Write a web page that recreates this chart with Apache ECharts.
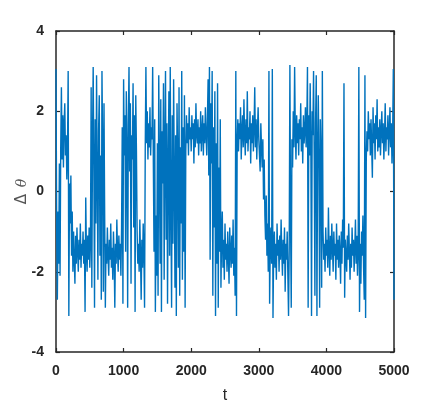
<!DOCTYPE html>
<html>
<head>
<meta charset="utf-8">
<script src="https://cdn.jsdelivr.net/npm/echarts@6/dist/echarts.min.js"></script>
<style>
html,body{margin:0;padding:0;background:#fff;}
#c{width:436px;height:409px;}
</style>
</head>
<body>
<div id="c"></div>
<script>
// sample step of the series along t
const tStep = 10;
const xTicks = [0, 1000, 2000, 3000, 4000, 5000];
const yTicks = [-4, -2, 0, 2, 4];

// Δθ values, t = 0 .. 990
const dTheta0 = [
  3.05, -1.0, -2.7, -0.5, -1.8, 0.7, -2.1, 1.1, 2.6, 0.8,
  1.9, 0.6, 1.7, 2.2, 0.9, 1.4, 0.3, 1.0, 3.0, -3.1,
  0.2, -0.8, 0.4, -1.6, -0.5, -2.0, -1.0, -1.7, -2.3, -1.1,
  -1.8, -0.9, -1.5, -2.0, -1.2, -1.7, -0.8, -1.9, -1.3, -1.6,
  -1.0, -1.8, -1.2, -3.0, -0.15, -1.5, -2.0, -1.1, -1.7, -0.9,
  -1.9, -1.3, 2.6, -2.4, 1.2, 3.1, 0.6, -2.9, 1.8, -0.8,
  2.9, 0.4, -2.2, 1.5, 2.4, -1.6, 0.9, -2.7, 3.0, 1.1,
  -2.5, 2.2, -0.6, -2.9, -1.3, -1.8, -0.9, -1.6, -2.1, -1.2,
  -1.7, -0.8, -1.9, -1.4, -2.2, -1.0, -1.6, -2.9, -1.3, -1.8,
  -0.7, -1.5, -2.0, -1.1, -1.7, -1.3, -2.1, -0.9, 1.6, -2.8
];
// t = 1000 .. 1990
const dTheta1 = [
  2.8, 0.9, 1.9, -1.5, 2.5, 1.1, -2.9, 1.7, 3.1, 0.5,
  2.2, -2.3, 1.4, 0.8, 2.7, -0.9, 1.9, -3.0, 2.4, 1.0,
  -1.0, -1.8, -1.3, -2.0, -0.7, -1.6, -2.7, -1.2, -1.9, -0.8,
  -1.5, -2.9, 1.0, 3.1, 1.2, 2.0, 0.8, 1.7, 1.1, 2.1,
  0.9, 1.6, 1.3, 3.1, 0.7, -1.5, 1.8, -3.0, -0.6, -2.1,
  1.2, -2.6, 2.9, 0.5, -1.8, 2.3, -3.0, 1.5, 0.2, 2.7,
  -2.2, 1.0, 3.0, -1.2, 1.7, -2.8, 0.6, 2.5, -1.6, 3.1,
  -0.4, -2.9, 1.9, -1.3, 2.8, 0.3, -2.4, 1.4, -3.1, 2.2,
  0.8, -1.9, 2.6, -2.6, 1.1, -0.8, 3.0, -2.2, 1.6, -1.5,
  2.4, -2.9, 1.0, 1.9, 1.2, 1.7, 0.9, 2.1, 1.3, 1.6
];
// t = 2000 .. 2990
const dTheta2 = [
  1.0, 1.9, 1.3, 1.7, 0.7, 1.8, 1.1, 2.2, 1.4, 1.2,
  1.8, 0.9, 1.6, 1.2, 2.0, 1.0, 1.5, 1.9, 0.9, 1.7,
  1.2, 2.1, 1.4, 0.9, 1.8, 2.8, 0.4, 3.1, -1.7, 2.2,
  0.7, 3.0, -2.6, 1.6, -0.9, 2.5, -3.1, 1.2, -1.8, 2.7,
  -2.9, 0.6, -1.5, 1.8, -2.4, -1.1, -0.5, -1.9, -1.2, -2.2,
  -0.8, -1.7, -1.3, -2.0, -1.0, -1.6, -2.3, -0.9, -1.5, -1.9,
  -1.1, -1.8, -0.7, -2.1, -1.4, -2.6, 3.0, -3.1, 1.2, 1.8,
  1.0, 1.7, 1.3, 2.1, 0.8, 1.5, 1.9, 1.1, 2.3, 1.4,
  0.9, 1.8, 1.2, 2.5, 1.0, 1.6, 1.3, 2.0, 0.7, 1.7,
  1.2, 1.9, 1.0, 1.6, 2.6, 1.1, 1.8, 0.8, 1.5, 2.1
];
// t = 3000 .. 3990
const dTheta3 = [
  1.3, 0.9, 0.5, 1.7, 1.1, 0.6, 1.3, -0.2, 0.8, -0.6,
  -1.2, -0.1, -1.6, -0.8, -2.0, 3.0, -2.8, -1.3, -0.9, -1.8,
  3.05, -3.15, -1.4, -1.0, -1.9, -1.3, -2.2, -0.8, -1.6, -1.2,
  -2.0, -1.1, -1.7, -0.7, -1.5, -2.1, -1.2, -1.8, -0.9, -2.5,
  -1.3, -1.7, -1.0, -2.1, -3.1, -1.4, 3.15, -0.8, -2.9, 1.3,
  0.6, 2.0, 1.1, 3.1, 1.5, 0.8, 1.9, 1.2, 1.7, 0.9,
  1.8, 1.3, 2.2, 1.0, 1.6, 0.7, 1.9, 1.2, 1.5, 2.1,
  1.1, 1.6, 3.1, -2.9, 1.9, 0.9, 2.7, 1.2, -3.1, 2.0,
  1.4, 3.0, 0.8, -2.6, 1.7, 2.9, -3.1, 1.0, 2.4, 0.6,
  -2.9, 1.8, 0.9, -2.4, 3.0, -1.0, -1.7, -1.3, -2.0, -0.9
];
// t = 4000 .. 5000
const dTheta4 = [
  -1.6, -1.2, -1.9, -0.4, -1.5, -2.1, -1.1, -1.7, -0.8, -1.4,
  -2.0, -1.0, -1.6, -1.3, -2.2, -0.8, -1.7, -1.2, -1.9, -1.1,
  -1.5, -2.3, -1.0, -1.8, -0.7, -1.4, 2.7, -2.65, -1.2, -1.6,
  -2.0, -1.1, -1.7, -0.8, -1.5, -2.2, -1.3, -1.9, -0.9, -1.6,
  -1.2, -2.0, -1.4, -0.7, -1.8, -1.1, -2.1, -1.5, 3.1, -3.0,
  -1.3, -2.3, -1.0, -1.6, -0.6, -1.9, -2.7, 2.9, -3.15, 0.8,
  1.5, 1.0, 2.0, 1.3, 1.7, 0.9, 1.8, 1.1, 0.34, 2.1,
  1.2, 1.7, 0.8, 1.9, 1.3, 2.3, 1.0, 1.6, 1.1, 1.8,
  0.9, 1.5, 2.0, 1.2, 1.7, 0.8, 1.4, 2.2, 1.0, 1.6,
  1.3, 1.9, 0.9, 1.5, 2.1, 1.1, 1.7, 0.7, 1.4, 3.05,
  -2.7
];

const values = [].concat(dTheta0, dTheta1, dTheta2, dTheta3, dTheta4);
const seriesData = values.map((v, i) => [i * tStep, v]);

const axisCol = '#262626';
const labelFont = { fontFamily: 'Liberation Sans', fontWeight: 'bold', fontSize: 14, color: axisCol };
const plain = v => String(v);

const chart = echarts.init(document.getElementById('c'), null, { renderer: 'canvas' });
chart.setOption({
  animation: false,
  backgroundColor: '#fff',
  grid: { left: 56, right: 42, top: 31, bottom: 57, show: false, containLabel: false, outerBoundsMode: 'none' },
  xAxis: [{
    type: 'value', min: xTicks[0], max: xTicks[xTicks.length - 1], interval: 1000,
    position: 'bottom',
    axisLine: { show: true, onZero: false, lineStyle: { color: axisCol, width: 1.5 } },
    axisTick: { show: true, inside: true, length: 4, lineStyle: { color: axisCol, width: 1.2 } },
    axisLabel: Object.assign({ margin: 12, formatter: plain }, labelFont),
    splitLine: { show: false },
    name: 't', nameLocation: 'middle', nameGap: 36, nameMoveOverlap: false,
    nameTextStyle: { fontFamily: 'Liberation Sans', fontSize: 16, color: axisCol }
  }, {
    type: 'value', min: xTicks[0], max: xTicks[xTicks.length - 1], interval: 1000,
    position: 'top',
    axisLine: { show: true, onZero: false, lineStyle: { color: axisCol, width: 1.5 } },
    axisTick: { show: true, inside: true, length: 4, lineStyle: { color: axisCol, width: 1.2 } },
    axisLabel: { show: false },
    splitLine: { show: false }
  }],
  yAxis: [{
    type: 'value', min: yTicks[0], max: yTicks[yTicks.length - 1], interval: 2,
    position: 'left',
    axisLine: { show: true, onZero: false, lineStyle: { color: axisCol, width: 1.5 } },
    axisTick: { show: true, inside: true, length: 4, lineStyle: { color: axisCol, width: 1.2 } },
    axisLabel: Object.assign({ margin: 12, formatter: plain }, labelFont),
    splitLine: { show: false },
    name: '{a|Δ}  {b|θ}', nameLocation: 'middle', nameGap: 26, nameRotate: 90,
    nameMoveOverlap: false,
    nameTextStyle: {
      color: '#555',
      rich: {
        a: { fontFamily: 'DejaVu Sans', fontSize: 15, color: '#555' },
        b: { fontFamily: 'DejaVu Serif', fontSize: 14, fontStyle: 'italic', color: '#555' }
      }
    }
  }, {
    type: 'value', min: yTicks[0], max: yTicks[yTicks.length - 1], interval: 2,
    position: 'right',
    axisLine: { show: true, onZero: false, lineStyle: { color: axisCol, width: 1.5 } },
    axisTick: { show: true, inside: true, length: 4, lineStyle: { color: axisCol, width: 1.2 } },
    axisLabel: { show: false },
    splitLine: { show: false }
  }],
  series: [{
    type: 'line',
    xAxisIndex: 0, yAxisIndex: 0,
    data: seriesData,
    showSymbol: false,
    symbol: 'none',
    sampling: null,
    lineStyle: { color: '#0072BD', width: 1.4 },
    clip: true
  }]
});
</script>
</body>
</html>
